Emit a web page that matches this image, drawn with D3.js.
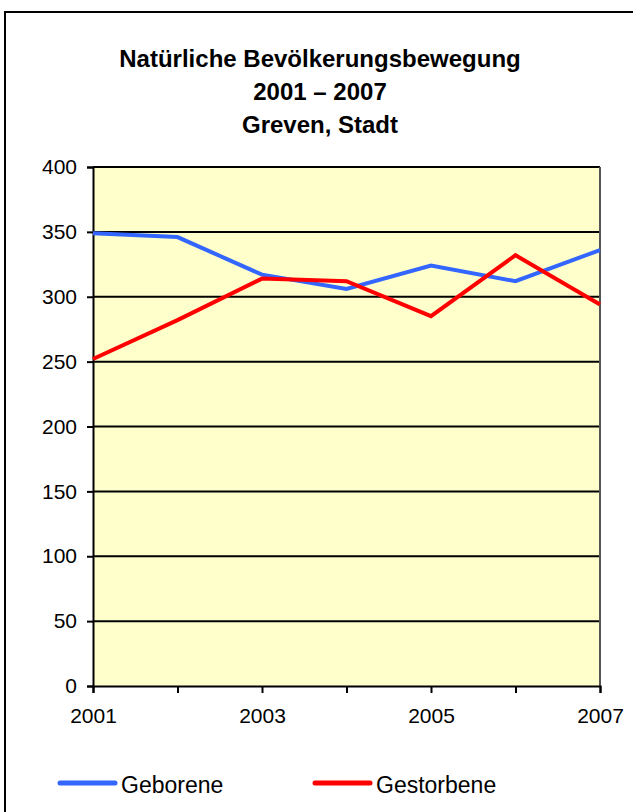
<!DOCTYPE html>
<html><head><meta charset="utf-8">
<script src="https://cdn.jsdelivr.net/npm/d3@7"></script>
<style>body{margin:0;background:#fff}svg{display:block}</style>
</head><body>
<script>
const years = [2001, 2002, 2003, 2004, 2005, 2006, 2007];
const geborene = [349, 346, 317, 306, 324, 312, 336];
const gestorbene = [252, 282, 314, 312, 285, 332, 294];
const yTicks = [0, 50, 100, 150, 200, 250, 300, 350, 400];
const xTickLabels = [2001, 2003, 2005, 2007];
const titleLines = ["Natürliche Bevölkerungsbewegung", "2001 – 2007", "Greven, Stadt"];
const seriesNames = ["Geborene", "Gestorbene"];
const colors = ["#3366FF", "#FF0000"];

const W = 633, H = 812;
const svg = d3.select("body").append("svg").attr("width", W).attr("height", H);
const font = "'Liberation Sans', Arial, sans-serif";

svg.append("rect").attr("x", 5).attr("y", 12).attr("width", 640).attr("height", 820)
  .attr("fill", "#fff").attr("stroke", "#000").attr("stroke-width", 2);

const pL = 93, pR = 600, pT = 167, pB = 686;
const x = d3.scalePoint().domain(years).range([pL, pR]);
const y = d3.scaleLinear().domain([0, 400]).range([pB, pT]);

svg.append("rect").attr("x", pL).attr("y", pT).attr("width", pR - pL).attr("height", pB - pT)
  .attr("fill", "#FFFFCC");

// gridlines
svg.append("g").selectAll("line").data(yTicks.filter(d => d > 0)).join("line")
  .attr("x1", pL).attr("x2", pR).attr("y1", d => y(d)).attr("y2", d => y(d))
  .attr("stroke", "#000").attr("stroke-width", 2);
svg.append("line").attr("x1", pR).attr("x2", pR).attr("y1", pT).attr("y2", pB)
  .attr("stroke", "#555").attr("stroke-width", 2);

// axes
const yAxis = d3.axisLeft(y).tickValues(yTicks).tickSize(6).tickPadding(10);
const gy = svg.append("g").attr("transform", `translate(${pL},0)`).call(yAxis);
gy.select(".domain").attr("stroke", "#000").attr("stroke-width", 2);
gy.selectAll(".tick line").attr("stroke", "#000").attr("stroke-width", 2);
gy.selectAll("text").attr("font-family", font).attr("font-size", 21).attr("fill", "#000");

const xAxis = d3.axisBottom(x).tickSize(7).tickPadding(15)
  .tickFormat(d => xTickLabels.includes(d) ? d : "");
const gx = svg.append("g").attr("transform", `translate(0,${pB})`).call(xAxis);
gx.select(".domain").attr("stroke", "#000").attr("stroke-width", 2);
gx.selectAll(".tick line").attr("stroke", "#000").attr("stroke-width", 2);
gx.selectAll("text").attr("font-family", font).attr("font-size", 21).attr("fill", "#000");

// lines
const line = d3.line().x((d, i) => x(years[i])).y(d => y(d));
[geborene, gestorbene].forEach((s, k) => {
  svg.append("path").datum(s).attr("d", line).attr("fill", "none")
    .attr("stroke", colors[k]).attr("stroke-width", 4).attr("stroke-linejoin", "miter");
});

// title
svg.append("g").selectAll("text").data(titleLines).join("text")
  .attr("x", 320).attr("y", (d, i) => 67 + i * 33).attr("text-anchor", "middle")
  .attr("font-family", font).attr("font-weight", "bold").attr("font-size", 24).attr("fill", "#000")
  .text(d => d);

// legend
const legX = [58, 313];
seriesNames.forEach((n, k) => {
  svg.append("line").attr("x1", legX[k] + 2).attr("x2", legX[k] + 57).attr("y1", 783).attr("y2", 783)
    .attr("stroke", colors[k]).attr("stroke-width", 5).attr("stroke-linecap", "round");
  svg.append("text").attr("x", legX[k] + 63).attr("y", 793).attr("font-family", font)
    .attr("font-size", 23).attr("fill", "#000").text(n);
});
</script>
</body></html>
